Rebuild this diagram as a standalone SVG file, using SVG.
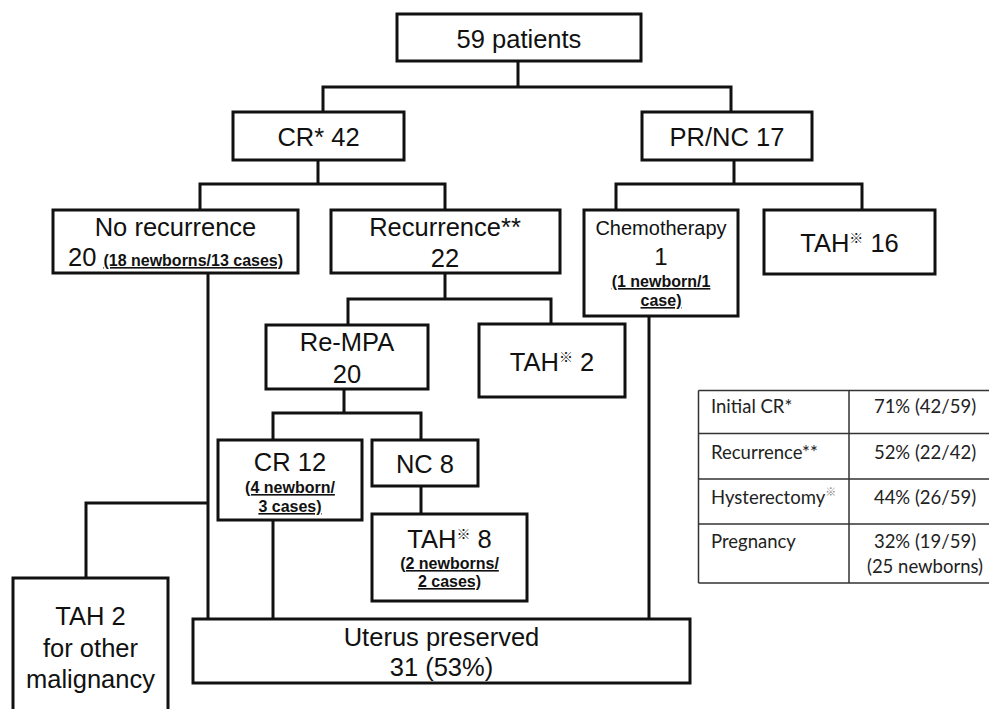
<svg xmlns="http://www.w3.org/2000/svg" width="989" height="709" viewBox="0 0 989 709">
<style>
.box{fill:#fff;stroke:#111;stroke-width:3}
.ln{fill:none;stroke:#111;stroke-width:3}
.t{font-family:"Liberation Sans",Arial,sans-serif;font-size:25.5px;fill:#111;text-anchor:middle}
.m{font-size:20px}
.s{font-size:16px;font-weight:bold;text-decoration:underline}
.sym{font-family:"Noto Sans CJK JP",sans-serif;font-size:14px}
.tb{fill:none;stroke:#333;stroke-width:1.5}
.tt{font-family:Lato,"Open Sans",sans-serif;font-size:18.5px;fill:#222}
.tv{text-anchor:middle}
.tsym{font-family:"Noto Sans CJK JP",sans-serif;font-size:11px;fill:#888}
</style>
<rect width="989" height="709" fill="#fff"/>
<g id="connectors">
<path class="ln" d="M518 61V87M323 112V87H731V112"/>
<path class="ln" d="M318 160V184M200 210V184H445V210"/>
<path class="ln" d="M734 160V184M616 210V184H862V210"/>
<path class="ln" d="M445 273V299M348 325V299H551V324"/>
<path class="ln" d="M344 389V413M273 440V413H421V440"/>
<path class="ln" d="M421 486V514"/>
<path class="ln" d="M208 273V619"/>
<path class="ln" d="M208 503H86V578"/>
<path class="ln" d="M273 520V619"/>
<path class="ln" d="M649 316V619"/>
</g>
<g id="n-patients">
<rect class="box" x="397" y="14" width="244" height="47"/>
<text class="t" x="519" y="47.5">59 patients</text>
</g>
<g id="n-cr42">
<rect class="box" x="233" y="112" width="171" height="48"/>
<text class="t" x="318.5" y="146">CR* 42</text>
</g>
<g id="n-prnc17">
<rect class="box" x="642" y="112" width="170" height="48"/>
<text class="t" x="727" y="146">PR/NC 17</text>
</g>
<g id="n-norec">
<rect class="box" x="53" y="210" width="245" height="63"/>
<text class="t" x="175.5" y="236">No recurrence</text>
<text class="t" x="175.5" y="266"><tspan>20 </tspan><tspan class="s">(18 newborns/13 cases)</tspan></text>
</g>
<g id="n-rec">
<rect class="box" x="331" y="210" width="229" height="63"/>
<text class="t" x="445" y="236">Recurrence**</text>
<text class="t" x="445" y="266.5">22</text>
</g>
<g id="n-chemo">
<rect class="box" x="584" y="210" width="154" height="106"/>
<text class="t m" x="661" y="235">Chemotherapy</text>
<text class="t" x="661" y="265" style="font-size:24px">1</text>
<text class="t s" x="661" y="287">(1 newborn/1</text>
<text class="t s" x="661" y="306">case)</text>
</g>
<g id="n-tah16">
<rect class="box" x="764" y="210" width="171" height="64"/>
<text class="t" x="849.5" y="252">TAH<tspan class="sym" dy="-9">※</tspan><tspan dy="9"> 16</tspan></text>
</g>
<g id="n-rempa">
<rect class="box" x="266" y="325" width="162" height="64"/>
<text class="t" x="347" y="350.5">Re-MPA</text>
<text class="t" x="347" y="382.5">20</text>
</g>
<g id="n-tah2">
<rect class="box" x="479" y="324" width="146" height="73"/>
<text class="t" x="552" y="370.5">TAH<tspan class="sym" dy="-9">※</tspan><tspan dy="9"> 2</tspan></text>
</g>
<g id="n-cr12">
<rect class="box" x="218" y="440" width="144" height="80"/>
<text class="t" x="290" y="470.5">CR 12</text>
<text class="t s" x="290" y="493">(4 newborn/</text>
<text class="t s" x="290" y="512">3 cases)</text>
</g>
<g id="n-nc8">
<rect class="box" x="372" y="440" width="106" height="46"/>
<text class="t" x="425" y="473">NC 8</text>
</g>
<g id="n-tah8">
<rect class="box" x="372" y="514" width="155" height="87"/>
<text class="t" x="449.5" y="548">TAH<tspan class="sym" dy="-9">※</tspan><tspan dy="9"> 8</tspan></text>
<text class="t s" x="449.5" y="569">(2 newborns/</text>
<text class="t s" x="449.5" y="587">2 cases)</text>
</g>
<g id="n-tah2other">
<rect class="box" x="13" y="578" width="155" height="150"/>
<text class="t" x="90.5" y="625">TAH 2</text>
<text class="t" x="90.5" y="656.5">for other</text>
<text class="t" x="90.5" y="688">malignancy</text>
</g>
<g id="n-uterus">
<rect class="box" x="193" y="619" width="497" height="64"/>
<text class="t" x="441.5" y="645.5">Uterus preserved</text>
<text class="t" x="441.5" y="676">31 (53%)</text>
</g>
<g id="table">
<path class="tb" d="M698.5 390.5H995M698.5 433.5H995M698.5 479H995M698.5 524H995M698.5 583H995M698.5 390.5V583M849 390.5V583"/>
<text class="tt" x="711" y="413">Initial CR*</text>
<text class="tt tv" x="925" y="413">71% (42/59)</text>
<text class="tt" x="711" y="459">Recurrence**</text>
<text class="tt tv" x="925" y="459">52% (22/42)</text>
<text class="tt" x="711" y="504">Hysterectomy<tspan class="tsym" dy="-8">※</tspan></text>
<text class="tt tv" x="925" y="504">44% (26/59)</text>
<text class="tt" x="711" y="548">Pregnancy</text>
<text class="tt tv" x="925" y="548">32% (19/59)</text>
<text class="tt tv" x="925" y="573">(25 newborns)</text>
</g>
</svg>
